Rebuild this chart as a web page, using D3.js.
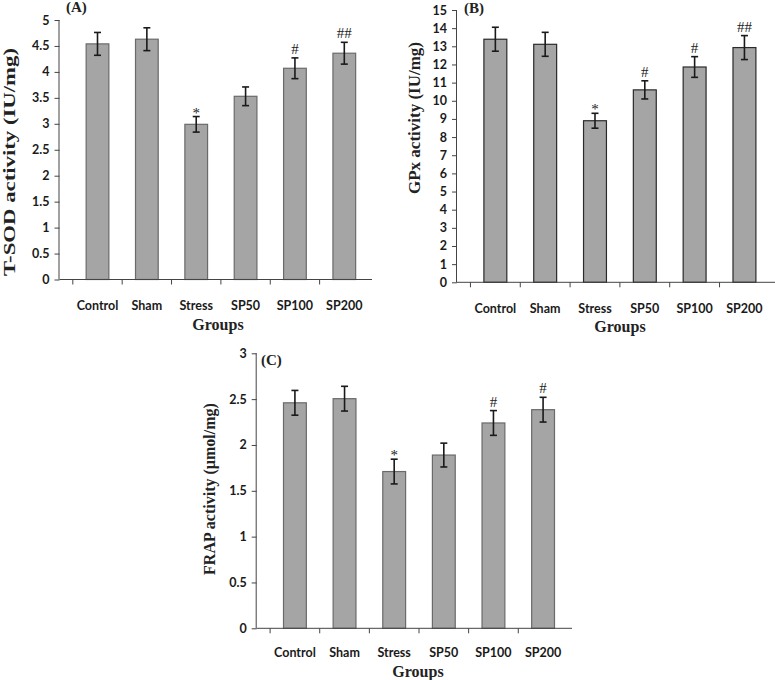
<!DOCTYPE html>
<html><head><meta charset="utf-8">
<script src="https://cdn.jsdelivr.net/npm/d3@7"></script>
<style>
body{margin:0;background:#fff;}
svg{display:block;}
</style></head>
<body>
<svg id="chart" width="775" height="680"></svg>
<script>
// ---- data ----
const groups = ["Control", "Sham", "Stress", "SP50", "SP100", "SP200"];

const sodMean = [4.54, 4.63, 2.99, 3.53, 4.07, 4.36];
const sodErr  = [0.22, 0.22, 0.15, 0.18, 0.20, 0.21];
const sodMarks = ["", "", "*", "", "#", "##"];
const sodTicks = [0, 0.5, 1, 1.5, 2, 2.5, 3, 3.5, 4, 4.5, 5];

const gpxMean = [13.39, 13.11, 8.90, 10.60, 11.86, 12.93];
const gpxErr  = [0.66, 0.66, 0.41, 0.50, 0.57, 0.66];
const gpxMarks = ["", "", "*", "#", "#", "##"];
const gpxTicks = [0, 1, 2, 3, 4, 5, 6, 7, 8, 9, 10, 11, 12, 13, 14, 15];

const frapMean = [2.46, 2.505, 1.71, 1.89, 2.24, 2.385];
const frapErr  = [0.135, 0.135, 0.135, 0.13, 0.135, 0.135];
const frapMarks = ["", "", "*", "", "#", "#"];
const frapTicks = [0, 0.5, 1, 1.5, 2, 2.5, 3];

const svg = d3.select("#chart");
const tickFont = "Lato, 'DejaVu Sans', sans-serif";
const serif = "'Liberation Serif', 'Times New Roman', serif";

function panel(o) {
  const g = svg.append("g");
  const x = d3.scaleBand().domain(groups)
    .range([o.x0, o.x0 + 6 * o.step]).padding(0.54);
  const y = d3.scaleLinear().domain([0, o.max]).range([o.y0, o.yTop]);

  // bars
  g.selectAll("rect.bar").data(groups).join("rect")
    .attr("class", "bar")
    .attr("x", d => x(d))
    .attr("width", x.bandwidth())
    .attr("y", (d, i) => y(o.mean[i]))
    .attr("height", (d, i) => o.y0 - y(o.mean[i]))
    .attr("fill", "#a5a5a5")
    .attr("stroke", o.barStroke)
    .attr("stroke-width", 1.2);

  // error bars
  const eg = g.selectAll("g.err").data(groups).join("g").attr("class", "err");
  const cx = d => x(d) + x.bandwidth() / 2;
  eg.append("line")
    .attr("x1", cx).attr("x2", cx)
    .attr("y1", (d, i) => y(o.mean[i] + o.err[i]))
    .attr("y2", (d, i) => y(o.mean[i] - o.err[i]));
  eg.append("line")
    .attr("x1", d => cx(d) - 3.5).attr("x2", d => cx(d) + 3.5)
    .attr("y1", (d, i) => y(o.mean[i] + o.err[i]))
    .attr("y2", (d, i) => y(o.mean[i] + o.err[i]));
  eg.append("line")
    .attr("x1", d => cx(d) - 3.5).attr("x2", d => cx(d) + 3.5)
    .attr("y1", (d, i) => y(o.mean[i] - o.err[i]))
    .attr("y2", (d, i) => y(o.mean[i] - o.err[i]));
  eg.selectAll("line").attr("stroke", "#1a1a1a").attr("stroke-width", 1.6);

  // significance marks
  g.selectAll("text.mark").data(groups).join("text")
    .attr("class", "mark")
    .attr("x", cx)
    .attr("y", (d, i) => y(o.mean[i] + o.err[i]) + (o.marks[i] === "*" ? 1 : -4))
    .attr("text-anchor", "middle")
    .attr("font-family", serif)
    .attr("font-size", 15)
    .attr("fill", "#222")
    .text((d, i) => o.marks[i]);

  // y axis
  const ya = g.append("g").attr("transform", `translate(${o.x0},0)`)
    .call(d3.axisLeft(y).tickValues(o.ticks).tickFormat(d3.format("~g"))
      .tickSize(5).tickPadding(5));
  ya.select(".domain").attr("stroke", "#444").attr("d", `M-0.5,${o.y0}V${o.yTop}`);
  ya.selectAll(".tick line").attr("stroke", "#444");
  ya.selectAll(".tick text").attr("font-family", tickFont).attr("font-size", 12.5)
    .attr("font-weight", "bold").attr("fill", "#1a1a1a");

  // x axis baseline and ticks
  g.append("line").attr("x1", o.x0).attr("x2", o.xEnd)
    .attr("y1", o.y0).attr("y2", o.y0).attr("stroke", "#444");
  const bounds = groups.map(d => x(d) - (x.step() - x.bandwidth()) / 2);
  g.selectAll("line.xt").data(bounds).join("line").attr("class", "xt")
    .attr("x1", d => d).attr("x2", d => d)
    .attr("y1", o.y0).attr("y2", o.y0 + 5).attr("stroke", "#444");
  g.selectAll("text.xl").data(groups).join("text").attr("class", "xl")
    .attr("x", cx).attr("y", o.labelY)
    .attr("text-anchor", "middle")
    .attr("font-family", tickFont).attr("font-size", 12.5).attr("font-weight", "bold")
    .attr("fill", "#1a1a1a")
    .text(d => d);

  // axis titles
  g.append("text").attr("x", o.groupsX).attr("y", o.groupsY)
    .attr("text-anchor", "middle").attr("font-family", serif)
    .attr("font-weight", "bold").attr("font-size", 16).attr("fill", "#222")
    .text("Groups");
  const yt = g.append("text")
    .attr("transform", `translate(${o.ylabX},${o.ylabY}) rotate(-90)`)
    .attr("text-anchor", "middle").attr("font-family", serif)
    .attr("font-weight", "bold").attr("font-size", o.ylabSize).attr("fill", "#222")
    .text(o.ylabel);
  if (o.ylabLen) yt.attr("textLength", o.ylabLen).attr("lengthAdjust", "spacingAndGlyphs");

  // panel letter
  g.append("text").attr("x", o.letterX).attr("y", o.letterY)
    .attr("font-family", serif).attr("font-weight", "bold").attr("font-size", 15)
    .attr("fill", "#222").text(o.letter);
}

panel({ mean: sodMean, err: sodErr, marks: sodMarks, ticks: sodTicks, max: 5,
  x0: 59.5, step: 53.8, xEnd: 372, y0: 279.5, yTop: 20, barStroke: "#6a6a6a",
  labelY: 310, groupsX: 218, groupsY: 330,
  ylabel: "T-SOD activity (IU/mg)", ylabX: 15, ylabY: 162, ylabLen: 228, ylabSize: 17,
  letter: "(A)", letterX: 66, letterY: 12 });

panel({ mean: gpxMean, err: gpxErr, marks: gpxMarks, ticks: gpxTicks, max: 15,
  x0: 457, step: 54.3, xEnd: 775, y0: 282.3, yTop: 10, barStroke: "#2a2a2a",
  labelY: 313, groupsX: 620, groupsY: 332,
  ylabel: "GPx activity (IU/mg)", ylabX: 420, ylabY: 118, ylabSize: 17,
  letter: "(B)", letterX: 464, letterY: 13 });

panel({ mean: frapMean, err: frapErr, marks: frapMarks, ticks: frapTicks, max: 3,
  x0: 256.7, step: 54.1, xEnd: 572, y0: 628.3, yTop: 353.3, barStroke: "#6a6a6a",
  labelY: 657, groupsX: 418, groupsY: 677,
  ylabel: "FRAP activity (\u00b5mol/mg)", ylabX: 215, ylabY: 489, ylabSize: 16,
  letter: "(C)", letterX: 261, letterY: 365 });
</script>
</body></html>
